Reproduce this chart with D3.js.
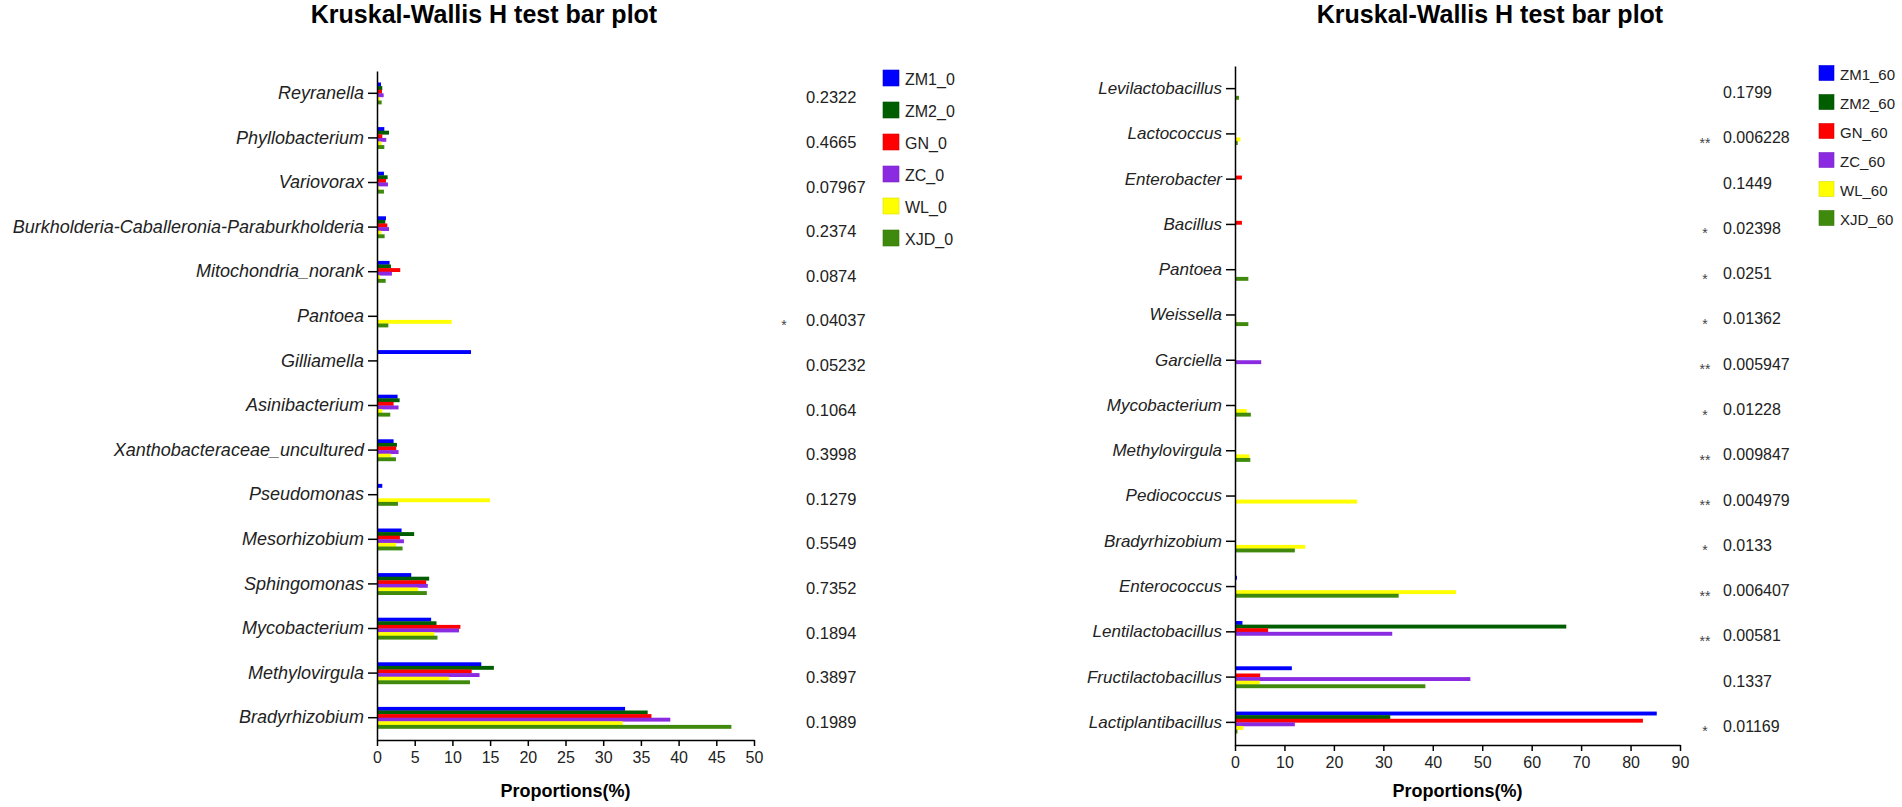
<!DOCTYPE html>
<html>
<head>
<meta charset="utf-8">
<script src="https://cdn.jsdelivr.net/npm/d3@7"></script>
<style>
  body { margin: 0; background: #fff; }
  svg { display: block; font-family: 'Liberation Sans', Arial, sans-serif; }
  .axis path, .axis line { stroke: #000; stroke-width: 1.5; }
  .axis text { fill: #222; }
</style>
</head>
<body>
<svg id="chart"></svg>
<script>
// ---- data: day 0 ----
const leftGenera = ['Reyranella', 'Phyllobacterium', 'Variovorax', 'Burkholderia-Caballeronia-Paraburkholderia',
  'Mitochondria_norank', 'Pantoea', 'Gilliamella', 'Asinibacterium', 'Xanthobacteraceae_uncultured',
  'Pseudomonas', 'Mesorhizobium', 'Sphingomonas', 'Mycobacterium', 'Methylovirgula', 'Bradyrhizobium'];
const leftGroups = ['ZM1_0', 'ZM2_0', 'GN_0', 'ZC_0', 'WL_0', 'XJD_0'];
// one row per genus, columns follow leftGroups
const leftValues = [
  [0.53, 0.70, 0.66, 0.88, 0.35, 0.62],
  [0.97, 1.59, 0.70, 1.23, 0.60, 0.97],
  [0.92, 1.41, 1.19, 1.45, 0.26, 0.92],
  [1.19, 1.10, 1.37, 1.59, 0.57, 1.01],
  [1.67, 1.85, 3.08, 1.98, 0.40, 1.15],
  [0.05, 0, 0, 0, 9.90, 1.50],
  [12.47, 0, 0, 0, 0, 0],
  [2.73, 3.00, 2.20, 2.86, 0.70, 1.76],
  [2.20, 2.64, 2.55, 2.86, 1.85, 2.51],
  [0.70, 0, 0, 0, 14.98, 2.78],
  [3.26, 4.93, 3.04, 3.57, 2.55, 3.39],
  [4.54, 6.92, 6.52, 6.74, 5.46, 6.61],
  [7.18, 7.89, 11.06, 10.88, 7.62, 8.02],
  [13.83, 15.50, 12.56, 13.60, 9.56, 12.33],
  [32.9, 35.9, 36.4, 38.9, 32.6, 47.0]
];
const leftPValues = ['0.2322', '0.4665', '0.07967', '0.2374', '0.0874', '0.04037', '0.05232', '0.1064',
  '0.3998', '0.1279', '0.5549', '0.7352', '0.1894', '0.3897', '0.1989'];
const leftStars = ['', '', '', '', '', '*', '', '', '', '', '', '', '', '', ''];
const leftTicks = [0, 5, 10, 15, 20, 25, 30, 35, 40, 45, 50];

// ---- data: day 60 ----
const rightGenera = ['Levilactobacillus', 'Lactococcus', 'Enterobacter', 'Bacillus', 'Pantoea', 'Weissella',
  'Garciella', 'Mycobacterium', 'Methylovirgula', 'Pediococcus', 'Bradyrhizobium', 'Enterococcus',
  'Lentilactobacillus', 'Fructilactobacillus', 'Lactiplantibacillus'];
const rightGroups = ['ZM1_60', 'ZM2_60', 'GN_60', 'ZC_60', 'WL_60', 'XJD_60'];
const rightValues = [
  [0, 0, 0, 0, 0, 0.8],
  [0, 0, 0, 0, 1.1, 0.55],
  [0.1, 0, 1.4, 0, 0, 0],
  [0.2, 0, 1.4, 0, 0, 0],
  [0, 0, 0, 0, 0.1, 2.7],
  [0, 0, 0.2, 0, 0.3, 2.7],
  [0, 0, 0, 5.3, 0, 0],
  [0, 0, 0, 0, 2.4, 3.2],
  [0, 0, 0, 0, 2.9, 3.1],
  [0, 0, 0, 0, 24.7, 0],
  [0, 0, 0, 0, 14.2, 12.1],
  [0.4, 0, 0, 0, 44.7, 33.1],
  [1.5, 67.0, 6.7, 31.8, 0, 0.2],
  [11.5, 0, 5.1, 47.6, 5.0, 38.5],
  [85.3, 31.4, 82.5, 12.1, 1.7, 0.5]
];
const rightPValues = ['0.1799', '0.006228', '0.1449', '0.02398', '0.0251', '0.01362', '0.005947', '0.01228',
  '0.009847', '0.004979', '0.0133', '0.006407', '0.00581', '0.1337', '0.01169'];
const rightStars = ['', '**', '', '*', '*', '*', '**', '*', '**', '**', '*', '**', '**', '', '*'];
const rightTicks = [0, 10, 20, 30, 40, 50, 60, 70, 80, 90];

const groupColors = ['#0000ff', '#005e00', '#ff0000', '#8a2be2', '#ffff00', '#3f8a0c'];

const svg = d3.select('#chart')
  .attr('width', 1902)
  .attr('height', 807);

function drawPanel(cfg) {
  const g = svg.append('g');

  const x = d3.scaleLinear()
    .domain([0, cfg.ticks[cfg.ticks.length - 1]])
    .range([cfg.x0, cfg.x1]);

  const y = d3.scaleBand()
    .domain(cfg.genera)
    .range([cfg.y0, cfg.y1]);

  // bars of one genus sit in a narrow strip around the tick
  const ySub = d3.scaleBand()
    .domain(cfg.groups)
    .range([-cfg.barH * 3, cfg.barH * 3]);

  // title
  g.append('text')
    .attr('x', cfg.titleX)
    .attr('y', 23)
    .attr('text-anchor', 'middle')
    .style('font-size', '25px')
    .style('font-weight', 'bold')
    .text('Kruskal-Wallis H test bar plot');

  // bars
  const rows = g.selectAll('.row')
    .data(cfg.genera)
    .join('g')
    .attr('class', 'row')
    .attr('transform', d => `translate(0,${y(d) + y.bandwidth() / 2})`);

  rows.selectAll('rect')
    .data((d, i) => cfg.values[i].map((v, j) => ({ group: cfg.groups[j], value: v, idx: j })))
    .join('rect')
    .attr('x', x(0))
    .attr('y', d => ySub(d.group))
    .attr('width', d => x(d.value) - x(0))
    .attr('height', ySub.bandwidth() + 0.3)
    .attr('fill', d => groupColors[d.idx]);

  // axes
  const yAxis = d3.axisLeft(y).tickSize(9).tickPadding(4).tickSizeOuter(0);
  const yAxisG = g.append('g')
    .attr('class', 'axis')
    .attr('transform', `translate(${cfg.x0},0)`)
    .call(yAxis);
  yAxisG.selectAll('text')
    .style('font-size', cfg.labelSize + 'px')
    .style('font-style', 'italic')
    .attr('fill', '#222');

  const xAxis = d3.axisBottom(x).tickValues(cfg.ticks).tickSize(6).tickPadding(6).tickSizeOuter(0);
  const xAxisG = g.append('g')
    .attr('class', 'axis')
    .attr('transform', `translate(0,${cfg.y1})`)
    .call(xAxis);
  xAxisG.selectAll('text').style('font-size', '16px');

  g.append('text')
    .attr('x', (cfg.x0 + cfg.x1) / 2)
    .attr('y', 797)
    .attr('text-anchor', 'middle')
    .style('font-size', '18px')
    .style('font-weight', 'bold')
    .text('Proportions(%)');

  // p values and significance marks
  g.selectAll('.pval')
    .data(cfg.pvalues)
    .join('text')
    .attr('class', 'pval')
    .attr('x', cfg.pX)
    .attr('y', (d, i) => y(cfg.genera[i]) + y.bandwidth() / 2 + 4)
    .attr('dominant-baseline', 'central')
    .style('font-size', cfg.pSize + 'px')
    .attr('fill', '#222')
    .text(d => d);

  g.selectAll('.star')
    .data(cfg.stars)
    .join('text')
    .attr('class', 'star')
    .attr('x', cfg.starX)
    .attr('y', (d, i) => y(cfg.genera[i]) + y.bandwidth() / 2 + 9)
    .attr('text-anchor', 'middle')
    .attr('dominant-baseline', 'central')
    .style('font-size', '14px')
    .attr('fill', '#444')
    .text(d => d);

  // legend
  const leg = g.selectAll('.legend')
    .data(cfg.groups)
    .join('g')
    .attr('class', 'legend')
    .attr('transform', (d, i) => `translate(${cfg.legX},${cfg.legY + i * cfg.legStep})`);

  leg.append('rect')
    .attr('x', 0)
    .attr('y', -cfg.legBox / 2)
    .attr('width', cfg.legBox)
    .attr('height', cfg.legBox)
    .attr('fill', (d, i) => groupColors[i])
    .attr('stroke', (d, i) => d3.color(groupColors[i]).darker(0.4))
    .attr('stroke-width', 0.6);

  leg.append('text')
    .attr('x', cfg.legBox + 6)
    .attr('y', 1)
    .attr('dominant-baseline', 'central')
    .style('font-size', cfg.legSize + 'px')
    .attr('fill', '#222')
    .text(d => d);
}

drawPanel({
  genera: leftGenera, groups: leftGroups, values: leftValues,
  pvalues: leftPValues, stars: leftStars, ticks: leftTicks,
  x0: 377, x1: 754, y0: 71, y1: 740, barH: 3.6,
  titleX: 484, labelSize: 18,
  pX: 806, pSize: 16.5, starX: 784,
  legX: 883, legY: 78, legStep: 32, legBox: 16, legSize: 16
});

drawPanel({
  genera: rightGenera, groups: rightGroups, values: rightValues,
  pvalues: rightPValues, stars: rightStars, ticks: rightTicks,
  x0: 1235, x1: 1680, y0: 66, y1: 745, barH: 3.6,
  titleX: 1490, labelSize: 17,
  pX: 1723, pSize: 16, starX: 1705,
  legX: 1819, legY: 73, legStep: 29, legBox: 15, legSize: 15
});
</script>
</body>
</html>
